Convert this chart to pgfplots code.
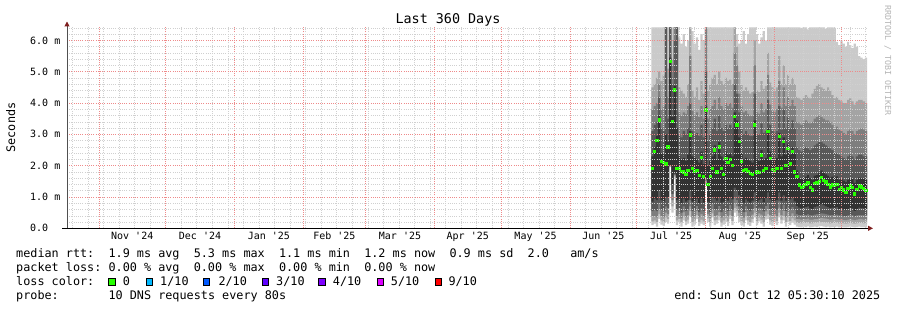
\documentclass[border=0pt]{standalone}
\usepackage{pgfplots}
\pgfplotsset{compat=1.18}
\usepackage{pgfplotstable}
\usepgfplotslibrary{fillbetween}
\usetikzlibrary{arrows.meta}
\usepackage{fontspec}
\setmonofont{DejaVu Sans Mono}
\renewcommand{\familydefault}{\ttdefault}
\definecolor{smokeA}{HTML}{CACACA}
\definecolor{smokeB}{HTML}{A4A4A4}
\definecolor{smokeC}{HTML}{7E7E7E}
\definecolor{smokeD}{HTML}{585858}
\definecolor{smokeE}{HTML}{323232}
\definecolor{gridc}{HTML}{D0D0D0}
\definecolor{mgridc}{HTML}{EE8A8A}
\definecolor{arrowc}{HTML}{7F1F1F}
\definecolor{axisy}{HTML}{505050}
\definecolor{lc0}{HTML}{26FF00}
\definecolor{lc1}{HTML}{00B8FF}
\definecolor{lc2}{HTML}{0059FF}
\definecolor{lc3}{HTML}{5E00FF}
\definecolor{lc4}{HTML}{7E00FF}
\definecolor{lc5}{HTML}{DD00FF}
\definecolor{lc9}{HTML}{FF0000}
\definecolor{wmark}{HTML}{B4B4B4}

% day d (0 = start of the 360-day window), sorted pings p1..p10 (ms), median (ms)
\pgfplotstableread{
d p1 p2 p3 p4 p5 med p6 p7 p8 p9 p10
263 0.10 0.22 0.38 0.55 0.85 1.92 2.30 3.10 3.80 4.50 6.42
264 0.15 0.25 0.40 0.60 0.95 2.45 2.60 3.30 3.90 4.60 6.42
265 0.05 0.20 0.35 0.55 0.90 2.80 2.95 3.40 4.00 4.80 6.42
266 0.30 0.45 0.60 0.80 1.20 3.46 3.60 4.20 4.60 5.00 6.42
267 0.12 0.25 0.40 0.60 0.90 2.13 2.40 3.20 3.80 4.70 6.42
268 0.08 0.20 0.36 0.55 0.85 2.10 2.35 3.10 3.90 4.90 6.42
269 0.20 0.35 0.50 0.70 1.00 2.05 3.00 6.42 6.42 6.42 6.42
270 0.15 0.30 0.45 0.65 1.00 2.60 2.75 3.50 4.20 5.10 6.42
271 1.95 1.97 1.99 2.00 2.02 5.33 5.45 6.42 6.42 6.42 6.42
272 0.50 0.70 0.90 1.10 1.40 3.40 3.55 4.60 5.20 5.40 6.42
273 1.62 1.66 1.70 1.72 1.75 4.42 4.55 6.00 6.42 6.42 6.42
274 0.10 0.25 0.40 0.60 0.90 1.90 3.20 6.42 6.42 6.42 6.42
275 0.20 0.30 0.45 0.65 0.95 1.90 2.30 3.00 3.70 4.50 6.10
276 0.05 0.18 0.32 0.50 0.80 1.82 2.20 2.90 3.60 4.40 5.90
277 0.25 0.38 0.52 0.70 0.95 1.80 2.25 3.10 3.70 4.30 6.20
278 0.10 0.22 0.36 0.55 0.85 1.72 2.15 3.00 3.65 4.20 5.80
279 0.15 0.28 0.42 0.62 0.90 1.85 2.35 3.20 3.90 4.60 6.00
280 0.40 0.55 0.70 0.90 1.20 2.98 3.10 4.00 5.50 6.42 6.42
281 0.05 0.20 0.35 0.55 0.85 1.90 2.30 3.10 3.75 4.40 6.30
282 0.12 0.25 0.40 0.58 0.88 1.82 2.25 3.00 3.60 4.20 5.90
283 0.30 0.42 0.55 0.72 0.95 1.85 2.20 3.05 3.70 4.50 6.10
284 0.08 0.20 0.35 0.52 0.80 1.68 2.10 2.95 3.55 4.10 5.70
285 0.15 0.28 0.45 0.65 0.95 2.26 2.45 3.30 3.90 4.70 6.20
286 0.10 0.22 0.38 0.55 0.82 1.65 2.05 2.90 3.50 4.30 6.00
287 1.40 1.45 1.50 1.55 1.60 3.78 3.90 5.00 6.42 6.42 6.42
288 0.20 0.32 0.45 0.62 0.85 1.40 2.00 2.80 3.50 4.40 6.42
289 0.05 0.18 0.34 0.52 0.82 1.65 2.15 3.00 3.80 4.60 6.42
290 0.35 0.48 0.60 0.78 1.00 1.90 2.30 3.20 3.90 4.80 6.42
291 0.10 0.25 0.40 0.60 0.95 2.50 2.65 3.50 4.10 4.90 6.42
292 0.15 0.28 0.42 0.60 0.88 1.80 2.20 3.10 3.80 4.60 6.42
293 0.25 0.38 0.52 0.72 1.00 2.60 2.75 3.60 4.20 5.00 6.42
294 0.05 0.18 0.34 0.52 0.82 1.92 2.30 3.20 3.90 4.70 6.42
295 0.12 0.25 0.40 0.58 0.85 1.72 2.15 3.10 3.80 4.60 6.42
296 0.20 0.32 0.46 0.65 0.95 2.24 2.45 3.30 4.00 4.80 6.42
297 0.08 0.22 0.38 0.56 0.88 2.10 2.35 3.20 3.90 4.70 6.42
298 0.30 0.42 0.56 0.74 1.00 2.20 2.40 3.30 4.00 4.75 6.42
299 0.10 0.24 0.40 0.60 0.92 2.00 2.30 3.20 3.85 4.60 6.42
300 0.50 0.65 0.80 1.00 1.30 3.57 3.70 4.60 5.60 6.42 6.42
301 0.40 0.55 0.70 0.90 1.20 3.30 3.45 4.30 5.20 5.80 6.20
302 0.20 0.35 0.50 0.70 1.05 2.77 2.90 3.70 4.30 5.00 5.90
303 0.10 0.24 0.40 0.60 0.90 2.15 2.40 3.20 3.90 4.60 6.00
304 0.05 0.18 0.34 0.52 0.82 1.85 2.20 3.00 3.70 4.40 6.30
305 0.25 0.38 0.52 0.70 0.92 1.88 2.25 3.10 3.75 4.50 5.90
306 0.12 0.25 0.40 0.58 0.86 1.82 2.20 3.00 3.65 4.40 6.20
307 0.08 0.20 0.35 0.54 0.82 1.75 2.15 2.95 3.60 4.30 6.42
308 0.18 0.30 0.44 0.62 0.88 1.72 2.10 2.95 3.60 4.35 6.42
309 0.35 0.50 0.65 0.85 1.15 3.30 3.45 4.30 5.20 6.00 6.42
310 0.10 0.22 0.38 0.56 0.84 1.80 2.20 3.00 3.70 4.40 6.20
311 0.22 0.34 0.48 0.66 0.90 1.78 2.15 3.00 3.65 4.35 5.90
312 0.15 0.28 0.44 0.64 0.95 2.34 2.50 3.35 4.00 4.70 6.10
313 0.05 0.18 0.34 0.54 0.84 1.85 2.20 3.05 3.70 4.45 6.30
314 0.28 0.40 0.54 0.72 0.96 1.90 2.25 3.10 3.80 4.55 6.00
315 0.30 0.45 0.62 0.82 1.15 3.09 3.20 4.10 4.90 5.60 6.42
316 0.12 0.26 0.42 0.62 0.92 2.24 2.45 3.30 3.95 4.65 6.42
317 0.08 0.20 0.36 0.55 0.85 1.88 2.25 3.10 3.75 4.50 6.42
318 0.20 0.32 0.46 0.64 0.88 1.82 2.20 3.05 3.70 4.40 6.42
319 0.10 0.24 0.40 0.60 0.90 1.90 2.25 3.10 3.80 4.50 6.42
320 0.35 0.50 0.66 0.86 1.15 2.93 3.05 3.90 4.70 5.50 6.42
321 0.15 0.28 0.42 0.60 0.88 1.90 2.30 3.15 3.85 4.60 6.42
322 0.25 0.40 0.56 0.76 1.05 2.77 2.90 3.80 4.50 5.20 6.42
323 0.05 0.20 0.36 0.56 0.88 2.00 2.35 3.20 3.90 4.60 6.42
324 0.20 0.35 0.50 0.70 1.00 2.55 2.70 3.55 4.20 4.90 6.42
325 0.10 0.24 0.40 0.60 0.92 2.05 2.35 3.20 3.90 4.60 6.42
326 0.18 0.32 0.48 0.68 0.98 2.45 2.60 3.45 4.10 4.80 6.42
327 0.12 0.25 0.40 0.58 0.86 1.80 2.40 3.20 3.90 4.60 6.42
328 0.05 0.18 0.30 0.45 0.72 1.65 1.85 2.60 3.40 4.20 6.42
329 0.04 0.17 0.29 0.43 0.66 1.38 1.62 2.50 3.35 4.15 6.42
330 0.03 0.16 0.28 0.42 0.64 1.30 1.58 2.45 3.30 4.10 6.40
331 0.05 0.18 0.30 0.44 0.66 1.35 1.60 2.55 3.40 4.20 6.42
332 0.04 0.17 0.29 0.43 0.68 1.40 1.65 2.60 3.45 4.25 6.42
333 0.06 0.19 0.31 0.45 0.70 1.45 1.70 2.55 3.40 4.20 6.35
334 0.03 0.16 0.28 0.42 0.64 1.30 1.60 2.50 3.35 4.15 6.42
335 0.04 0.16 0.28 0.41 0.62 1.22 1.55 2.55 3.40 4.30 6.42
336 0.05 0.18 0.30 0.44 0.68 1.42 1.68 2.65 3.50 4.45 6.42
337 0.04 0.18 0.30 0.45 0.70 1.45 1.70 2.70 3.55 4.55 6.42
338 0.06 0.19 0.32 0.46 0.72 1.50 1.75 2.75 3.60 4.60 6.42
339 0.07 0.20 0.33 0.48 0.78 1.62 1.85 2.75 3.55 4.50 6.42
340 0.05 0.19 0.32 0.47 0.74 1.52 1.78 2.70 3.50 4.45 6.42
341 0.04 0.18 0.31 0.45 0.70 1.48 1.72 2.65 3.45 4.40 6.38
342 0.05 0.18 0.30 0.44 0.68 1.40 1.68 2.60 3.45 4.50 6.42
343 0.03 0.16 0.28 0.42 0.65 1.32 1.62 2.55 3.40 4.40 6.42
344 0.04 0.17 0.29 0.43 0.66 1.38 1.65 2.50 3.30 4.25 6.42
345 0.04 0.17 0.29 0.43 0.66 1.36 1.63 2.40 3.20 4.15 6.40
346 0.05 0.18 0.30 0.44 0.68 1.40 1.66 2.40 3.25 4.20 5.95
347 0.03 0.16 0.28 0.41 0.62 1.25 1.55 2.35 3.15 4.10 5.85
348 0.04 0.17 0.29 0.42 0.64 1.30 1.58 2.30 3.10 4.05 6.00
349 0.03 0.16 0.27 0.40 0.60 1.22 1.52 2.25 3.05 4.00 5.90
350 0.03 0.15 0.26 0.39 0.58 1.15 1.48 2.20 3.00 4.00 5.80
351 0.04 0.16 0.28 0.41 0.62 1.28 1.55 2.30 3.10 4.10 5.95
352 0.05 0.17 0.29 0.43 0.66 1.35 1.60 2.35 3.15 4.15 5.85
353 0.04 0.16 0.28 0.42 0.64 1.30 1.58 2.30 3.10 4.05 5.75
354 0.03 0.15 0.26 0.38 0.56 1.10 1.45 2.20 3.00 3.95 5.90
355 0.04 0.16 0.28 0.41 0.62 1.25 1.55 2.30 3.10 4.05 5.80
356 0.05 0.17 0.29 0.43 0.66 1.35 1.62 2.35 3.15 4.10 5.50
357 0.04 0.17 0.29 0.42 0.65 1.32 1.60 2.35 3.20 4.10 5.45
358 0.04 0.16 0.28 0.42 0.64 1.28 1.58 2.30 3.15 4.05 5.40
359 0.03 0.16 0.28 0.41 0.62 1.20 1.55 2.30 3.10 4.00 5.45
360 0.03 0.16 0.28 0.41 0.62 1.20 1.55 2.30 3.10 4.00 5.45
}\smoke

\newcommand{\legfont}{\fontsize{11.8}{14}\selectfont}
\newcommand{\tickfont}{\fontsize{10}{12}\selectfont}

\begin{document}
\begin{tikzpicture}[leg/.style={anchor=base west, inner sep=0pt, font=\legfont}]
\begin{axis}[
  at={(67pt,-228.3pt)}, anchor=south west,
  scale only axis, width=800pt, height=202.3pt,
  xmin=0, xmax=360, ymin=0, ymax=6.46,
  axis on top,
  axis x line=bottom, axis y line=left,
  x axis line style={black, line width=1pt, shorten <=-5pt, shorten >=-6pt,
     -{Triangle[length=5pt,width=5pt,color=arrowc]}},
  y axis line style={axisy, line width=1pt, shorten >=-4.5pt,
     -{Triangle[length=5pt,width=5pt,color=arrowc]}},
  xtick={14.35,44.35,75.35,106.35,134.35,165.35,195.35,226.35,256.35,287.35,318.35,348.35},
  xticklabels={},
  minor xtick={2.35,9.35,16.35,23.35,30.35,37.35,51.35,58.35,65.35,72.35,79.35,86.35,93.35,100.35,107.35,114.35,121.35,128.35,135.35,142.35,149.35,156.35,163.35,170.35,177.35,184.35,191.35,198.35,205.35,212.35,219.35,233.35,240.35,247.35,254.35,261.35,268.35,275.35,282.35,289.35,296.35,303.35,310.35,317.35,324.35,331.35,338.35,345.35,352.35,359.35},
  extra x ticks={29.35,59.85,90.85,120.35,149.85,180.35,210.85,241.35,271.85,302.85,333.35},
  extra x tick labels={Nov '24,Dec '24,Jan '25,Feb '25,Mar '25,Apr '25,May '25,Jun '25,Jul '25,Aug '25,Sep '25},
  extra x tick style={grid=none},
  xticklabel style={font=\tickfont, inner sep=0pt, yshift=-3.5pt},
  ytick={0,1,2,3,4,5,6},
  yticklabels={0.0,1.0 m,2.0 m,3.0 m,4.0 m,5.0 m,6.0 m},
  minor ytick={0.2,0.4,0.6,0.8,1.2,1.4,1.6,1.8,2.2,2.4,2.6,2.8,3.2,3.4,3.6,3.8,4.2,4.4,4.6,4.8,5.2,5.4,5.6,5.8,6.2,6.4},
  yticklabel style={font=\tickfont, anchor=west, inner sep=0pt, xshift=-37pt},
  major tick length=0pt, minor tick length=0pt,
  grid=both,
  major grid style={draw=mgridc, line width=0.6pt, dash pattern=on 1pt off 1.2pt},
  minor grid style={draw=gridc, line width=0.5pt, dash pattern=on 1pt off 1.2pt},
]
\addplot[name path=l1, draw=none, const plot mark left, forget plot] table[x=d, y=p1] {\smoke};
\addplot[name path=u1, draw=none, const plot mark left, forget plot] table[x=d, y=p10] {\smoke};
\addplot[name path=l2, draw=none, const plot mark left, forget plot] table[x=d, y=p2] {\smoke};
\addplot[name path=u2, draw=none, const plot mark left, forget plot] table[x=d, y=p9] {\smoke};
\addplot[name path=l3, draw=none, const plot mark left, forget plot] table[x=d, y=p3] {\smoke};
\addplot[name path=u3, draw=none, const plot mark left, forget plot] table[x=d, y=p8] {\smoke};
\addplot[name path=l4, draw=none, const plot mark left, forget plot] table[x=d, y=p4] {\smoke};
\addplot[name path=u4, draw=none, const plot mark left, forget plot] table[x=d, y=p7] {\smoke};
\addplot[name path=l5, draw=none, const plot mark left, forget plot] table[x=d, y=p5] {\smoke};
\addplot[name path=u5, draw=none, const plot mark left, forget plot] table[x=d, y=p6] {\smoke};
\addplot[fill=smokeA, draw=none] fill between[of=l1 and u1];
\addplot[fill=smokeB, draw=none] fill between[of=l2 and u2];
\addplot[fill=smokeC, draw=none] fill between[of=l3 and u3];
\addplot[fill=smokeD, draw=none] fill between[of=l4 and u4];
\addplot[fill=smokeE, draw=none] fill between[of=l5 and u5];
\addplot[color=lc0, only marks, mark=square*, mark size=1.15pt,
  mark options={draw=lc0, fill=lc0, line width=0pt},
  restrict x to domain=0:359.9] table[x expr=\thisrow{d}+0.5, y=med] {\smoke};
\end{axis}

\node[anchor=base, inner sep=0pt, font=\fontsize{13.4}{16}\selectfont] at (448pt,-24pt) {Last 360 Days};
\node[rotate=90, anchor=base, inner sep=0pt, font=\legfont] at (15pt,-127.5pt) {Seconds};
\node[rotate=-90, anchor=base west, inner sep=0pt, font=\fontsize{8.3}{10}\selectfont, text=wmark] at (885pt,-5pt) {RRDTOOL / TOBI OETIKER};

\node[leg] at (16pt,-257.5pt) {median rtt:~~1.9~ms~avg~~5.3~ms~max~~1.1~ms~min~~1.2~ms~now~~0.9~ms~sd~~2.0~~~am/s};
\node[leg] at (16pt,-271.5pt) {packet loss:~0.00~\%~avg~~0.00~\%~max~~0.00~\%~min~~0.00~\%~now};
\node[leg] at (16pt,-285.5pt) {loss color:};
\draw[line width=0.8pt, fill=lc0] (108.6pt,-278.6pt) rectangle ++(6.4pt,-6.8pt);
\node[leg] at (122.7pt,-285.5pt) {0};
\draw[line width=0.8pt, fill=lc1] (146.0pt,-278.6pt) rectangle ++(6.4pt,-6.8pt);
\node[leg] at (160pt,-285.5pt) {1/10};
\draw[line width=0.8pt, fill=lc2] (203.3pt,-278.6pt) rectangle ++(6.4pt,-6.8pt);
\node[leg] at (218.3pt,-285.5pt) {2/10};
\draw[line width=0.8pt, fill=lc3] (262.0pt,-278.6pt) rectangle ++(6.4pt,-6.8pt);
\node[leg] at (276pt,-285.5pt) {3/10};
\draw[line width=0.8pt, fill=lc4] (318.6pt,-278.6pt) rectangle ++(6.4pt,-6.8pt);
\node[leg] at (332.7pt,-285.5pt) {4/10};
\draw[line width=0.8pt, fill=lc5] (377.0pt,-278.6pt) rectangle ++(6.4pt,-6.8pt);
\node[leg] at (390.7pt,-285.5pt) {5/10};
\draw[line width=0.8pt, fill=lc9] (435.3pt,-278.6pt) rectangle ++(6.4pt,-6.8pt);
\node[leg] at (448.3pt,-285.5pt) {9/10};
\node[leg] at (16pt,-299.5pt) {probe:~~~~~~~10~DNS~requests~every~80s};
\node[anchor=base east, inner sep=0pt, font=\legfont] at (880.5pt,-299.5pt) {end: Sun Oct 12 05:30:10 2025};

\pgfresetboundingbox
\path[use as bounding box] (0pt,0pt) rectangle (897pt,-310pt);
\end{tikzpicture}
\end{document}
